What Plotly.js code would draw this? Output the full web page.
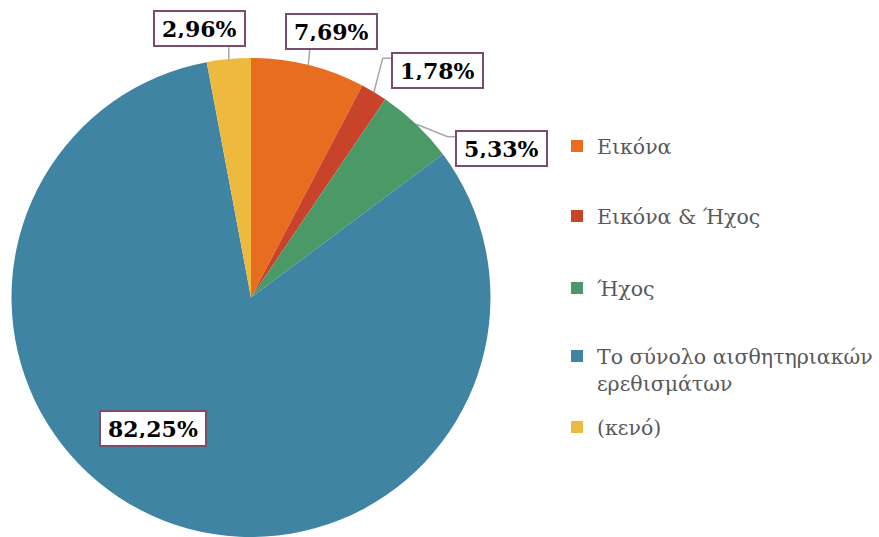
<!DOCTYPE html>
<html><head><meta charset="utf-8">
<script src="https://cdn.plot.ly/plotly-3.0.1.min.js"></script>
<style>html,body{margin:0;padding:0;background:#fff}#chart{width:879px;height:537px}</style>
</head><body><div id="chart"></div>
<script>
// ---- data ----
const categories = ['Εικόνα', 'Εικόνα & Ήχος', 'Ήχος', 'Το σύνολο αισθητηριακών ερεθισμάτων', '(κενό)'];
const legendLabels = ['Εικόνα', 'Εικόνα & Ήχος', 'Ήχος', 'Το σύνολο αισθητηριακών<br>ερεθισμάτων', '(κενό)'];
const values = [7.69, 1.78, 5.33, 82.25, 2.96];
const colors = ['#E86D1F', '#C8432A', '#4A9966', '#3F85A3', '#EDBA3F'];

// ---- layout geometry (pixels) ----
const W = 879, H = 537, CX = 251, CY = 297.5, R = 239.5;
const labelOffsets = [[23.6, -33.8], [63.8, -21.3], [85, 24], [-11, -92], [-29, -30.5]];
const leaderPts = [
  [[0, 0], [1.5, -15.3]],
  [[0, 0], [8.8, -33.8], [19.8, -33.8]],
  [[0, 0], [31.2, 12.4], [40.2, 12.4]],
  null,
  [[0, 0], [0, -11.9]]
];
const legendRowsY = [146, 216, 288, 356, 427];
const LEG_FONT = 20.5;

const px2x = x => x / W;
const px2y = y => (H - y) / H;
const total = values.reduce((a, b) => a + b, 0);

let cum = 0;
const annotations = [], shapes = [];
values.forEach((v, i) => {
  const mid = (cum + v / 2) / total * 2 * Math.PI;
  cum += v;
  const ex = CX + R * Math.sin(mid), ey = CY - R * Math.cos(mid);
  const [dx, dy] = labelOffsets[i];
  annotations.push({
    x: px2x(ex + dx), y: px2y(ey + dy), xref: 'paper', yref: 'paper',
    xanchor: 'center', yanchor: 'middle', showarrow: false,
    text: '<b>' + v.toFixed(2).replace('.', ',') + '%</b>',
    font: {family: 'DejaVu Serif', size: 22, color: '#000'},
    bgcolor: '#fff', bordercolor: '#7A4C6E', borderwidth: 2, borderpad: 7, height: 19
  });
  if (leaderPts[i]) {
    const p = leaderPts[i].map(([a, b], k) => (k ? 'L' : 'M') + px2x(ex + a) + ',' + px2y(ey + b)).join(' ');
    shapes.push({type: 'path', xref: 'paper', yref: 'paper', path: p, line: {color: '#A6A6A6', width: 1.5}, layer: 'below'});
  }
});

const traces = [{
  type: 'pie', labels: categories, values: values, sort: false, direction: 'clockwise', rotation: 0,
  marker: {colors: colors, line: {width: 0}}, textinfo: 'none', hoverinfo: 'label+value',
  showlegend: false,
  domain: {x: [px2x(CX - R), px2x(CX + R)], y: [px2y(CY + R), px2y(CY - R)]}
}];
const layout = {
  width: W, height: H, margin: {l: 0, r: 0, t: 0, b: 0},
  paper_bgcolor: '#fff', plot_bgcolor: 'rgba(0,0,0,0)',
  xaxis: {visible: false}, yaxis: {visible: false},
  annotations: annotations, shapes: shapes, showlegend: true
};
const legTopOffset = 5 + (1.3 * LEG_FONT + 3) / 2;
legendLabels.forEach((lab, i) => {
  const key = i === 0 ? 'legend' : 'legend' + (i + 1);
  traces.push({
    type: 'scatter', mode: 'markers', x: [null], y: [null], name: lab,
    legend: key, showlegend: true, hoverinfo: 'skip',
    marker: {symbol: 'square', size: 12, color: colors[i], line: {width: 0}}
  });
  layout[key] = {
    x: px2x(557), xanchor: 'left', y: px2y(legendRowsY[i] - legTopOffset), yanchor: 'top',
    bgcolor: 'rgba(0,0,0,0)', borderwidth: 0, valign: 'top',
    font: {family: 'DejaVu Serif', size: LEG_FONT, color: '#595959'}
  };
});
Plotly.newPlot('chart', traces, layout, {displayModeBar: false, staticPlot: true});
</script>
</body></html>
